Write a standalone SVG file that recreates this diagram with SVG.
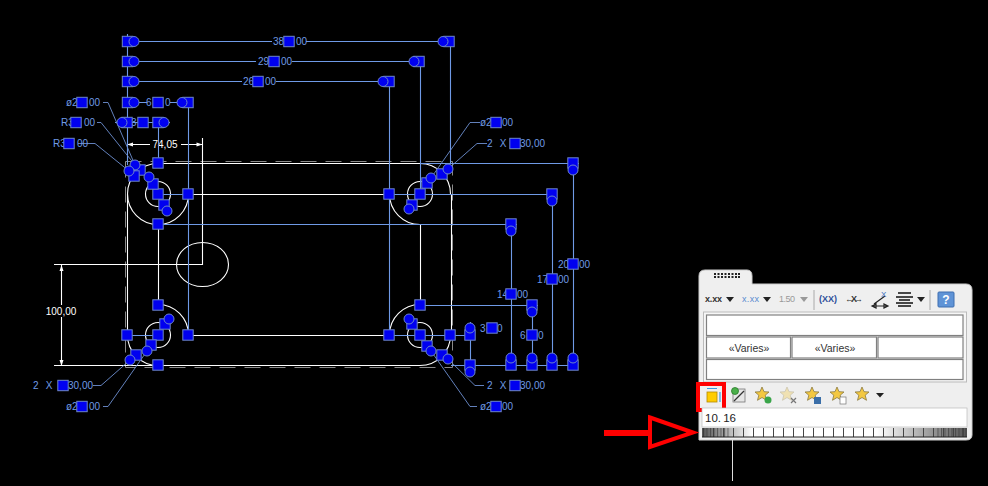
<svg xmlns="http://www.w3.org/2000/svg" xmlns:xlink="http://www.w3.org/1999/xlink" width="988" height="486" viewBox="0 0 988 486">
<style>
.b{stroke:#6f9ae6;stroke-width:1.1;fill:none}
.l{stroke:#6d8fd0;stroke-width:.9;fill:none}
.w{stroke:#fff;stroke-width:1.1;fill:none}
.d{stroke:#8a8a8a;stroke-width:1;fill:none;stroke-dasharray:16 9}
.h{fill:#0000f0;stroke:#6d86c8;stroke-width:1}
.t{font-family:"Liberation Sans",Arial,sans-serif;font-size:10px;fill:#6f9ae6;word-spacing:4.500px}
.tw{font-family:"Liberation Sans",Arial,sans-serif;font-size:10px;fill:#fff}
.c{stroke:#808080;stroke-width:1.2;fill:#fff}
.ui{font-family:"Liberation Sans",Arial,sans-serif;font-size:9px;fill:#333}
.tri{fill:#222}
.star{fill:#f3c842;stroke:#8a7a40;stroke-width:.8}
</style>
<defs>
<rect id="s" class="h" x="-5.200" y="-5.200" width="10.400" height="10.400"/>
<circle id="o" class="h" r="5"/>
<path id="st" class="star" d="M0-7 2-2.300 7-2 3.200 1.200 4.500 6.300 0 3.500-4.500 6.300-3.200 1.200-7-2-2-2.300Z"/>
<linearGradient id="rg" x1="0" x2="1" y1="0" y2="0">
<stop offset="0" stop-color="#555"/><stop offset=".1" stop-color="#b5b5b5"/><stop offset=".19" stop-color="#fff"/><stop offset=".66" stop-color="#fff"/><stop offset=".78" stop-color="#c4c4c4"/><stop offset="1" stop-color="#555"/>
</linearGradient>
<pattern id="tk" width="10" height="10" patternUnits="userSpaceOnUse" x="703"><rect x="0" width="1" height="10" fill="#444"/></pattern>
<pattern id="tk2" width="3.500" height="10" patternUnits="userSpaceOnUse" x="703"><rect x="0" width="1" height="10" fill="#333" fill-opacity=".6"/></pattern>
</defs>
<rect width="988" height="486" fill="#000"/>

<g id="part">
<path class="d" d="M125.500 161.500H452.500V367.500H125.500Z"/>
<path class="w" d="M158 163.500H420M158 365.500H420M127.500 194V335M451.500 194V335"/>
<path class="w" d="M188 194.500H390M188 335.500H390M158.500 224V305M420.500 224V305"/>
<path class="w" d="M158 163.500A30.500 30.500 0 0 0 127.500 194A30.500 30.500 0 0 0 158 224.500A30.500 30.500 0 0 0 188.500 194"/>
<path class="w" d="M389.500 194A30.500 30.500 0 0 0 420 224.500M420 163.500A30.500 30.500 0 0 1 450.500 194"/>
<path class="w" d="M158 304.500A30.500 30.500 0 0 1 188.500 335M127.500 335A30.500 30.500 0 0 0 158 365.500"/>
<path class="w" d="M389.500 335A30.500 30.500 0 0 1 420 304.500M450.500 335A30.500 30.500 0 0 1 420 365.500"/>
<circle class="w" cx="158" cy="194" r="12.500"/>
<circle class="w" cx="420" cy="194" r="12.500"/>
<circle class="w" cx="158" cy="335" r="12.500"/>
<circle class="w" cx="420" cy="335" r="12.500"/>
<ellipse class="w" cx="202.500" cy="264.500" rx="26" ry="22"/>
</g>

<g id="dims-white">
<path class="w" d="M202.500 138V264.500H54M54 365.500H158M61.500 265V366M127 144.500H202.500"/>
<path d="M127 144.500l6-2v4ZM202.500 144.500l-6-2v4ZM61.500 265l-2 6h4ZM61.500 366l-2-6h4Z" fill="#fff"/>
<rect x="150" y="138" width="31" height="12" fill="#000"/>
<rect x="44" y="305" width="34" height="12" fill="#000"/>
<text class="tw" x="165" y="148" text-anchor="middle">74,05</text>
<text class="tw" x="61" y="314.500" text-anchor="middle">100,00</text>
</g>

<g id="connectors">
<path class="b" d="M127.500 34V165M134 41.500H272M306 41.500H448M134 61.500H256M292 61.500H421M134 81.500H242M276 81.500H390M134 102.500H147M170 102.500H182M115 122.500H170"/>
<path class="b" d="M450.500 41V163M420.500 61V194M389.500 81V335M188.500 102V335M158.500 122V163"/>
<path class="b" d="M420 163.500H579M158 194.500H188M390 194.500H556M158 224.500H517M420 305.500H538M127 335.500H158M390 335.500H470M451 365.500H577M470.500 322V372"/>
<path class="b" d="M573.500 170V358M552.500 201V358M511.500 231V358M532.500 312V358"/>
<path class="l" d="M103 102.500H108L135 165M97 122.500H101L135 165M78 143.500H95L129 171"/>
<path class="l" d="M480 122.500H470L431 178M487 143.500H477L448 169"/>
<path class="l" d="M93 385.500H101L130 360M103 406.500H108L147 351"/>
<path class="l" d="M484 385.500H475L448 359M477 406.500H470L431 351"/>
</g>

<g id="labels">
<text class="t" x="66" y="105.500">ø2<tspan x="89">00</tspan></text>
<text class="t" x="61" y="126">R3<tspan x="84">00</tspan></text>
<text class="t" x="53" y="147">R3<tspan x="77">00</tspan></text>
<text class="t" x="273" y="45">38<tspan x="296">00</tspan></text>
<text class="t" x="258" y="65">29<tspan x="281">00</tspan></text>
<text class="t" x="243" y="85">26<tspan x="265">00</tspan></text>
<text class="t" x="146" y="106">6<tspan x="165">0</tspan></text>
<text class="t" x="131" y="126">3</text>
<text class="t" x="480" y="126">ø2<tspan x="502">00</tspan></text>
<text class="t" x="487" y="147">2 X<tspan x="520">30,00</tspan></text>
<text class="t" x="33" y="389">2 X<tspan x="68">30,00</tspan></text>
<text class="t" x="66" y="410">ø2<tspan x="89">00</tspan></text>
<text class="t" x="487" y="389">2 X<tspan x="520">30,00</tspan></text>
<text class="t" x="480" y="410">ø2<tspan x="502">00</tspan></text>
<text class="t" x="480" y="332">3<tspan x="497">0</tspan></text>
<text class="t" x="520" y="339">6<tspan x="538">0</tspan></text>
<text class="t" x="497" y="298">14<tspan x="517">00</tspan></text>
<text class="t" x="537" y="283">17<tspan x="558">00</tspan></text>
<text class="t" x="558" y="268">20<tspan x="579">00</tspan></text>
</g>

<g id="handles">
<use href="#s" x="127.500" y="41.500"/><use href="#o" x="134" y="41.500"/>
<use href="#s" x="127.500" y="61.500"/><use href="#o" x="134" y="61.500"/>
<use href="#s" x="127.500" y="81.500"/><use href="#o" x="134" y="81.500"/>
<use href="#s" x="127.500" y="102.500"/><use href="#o" x="134" y="102.500"/>
<use href="#s" x="289" y="41.500"/><use href="#s" x="449" y="41.500"/><use href="#o" x="443" y="41.500"/>
<use href="#s" x="274" y="61.500"/><use href="#s" x="419" y="61.500"/><use href="#o" x="414" y="61.500"/>
<use href="#s" x="258" y="81.500"/><use href="#s" x="389" y="81.500"/><use href="#o" x="383" y="81.500"/>
<use href="#s" x="158" y="102.500"/><use href="#s" x="188" y="102.500"/><use href="#o" x="182" y="102.500"/>
<use href="#s" x="127" y="122.500"/><use href="#o" x="122" y="122.500"/>
<use href="#s" x="143" y="122.500"/><use href="#s" x="158" y="122.500"/><use href="#o" x="164" y="122.500"/>
<use href="#s" x="82" y="102.500"/><use href="#s" x="76" y="122.500"/><use href="#s" x="69" y="143.500"/>
<use href="#s" x="496" y="122.500"/><use href="#s" x="515" y="143.500"/>
<use href="#s" x="63" y="385.500"/><use href="#s" x="82" y="406.500"/>
<use href="#s" x="515" y="385.500"/><use href="#s" x="496" y="406.500"/>

<use href="#s" x="158" y="163"/><use href="#s" x="188" y="194"/><use href="#s" x="158" y="194"/><use href="#s" x="158" y="224"/>
<use href="#s" x="140" y="170"/><use href="#s" x="134" y="176"/><use href="#s" x="153" y="184"/><use href="#s" x="164" y="205"/>
<use href="#o" x="135" y="165"/><use href="#o" x="129" y="171"/><use href="#o" x="149" y="177"/><use href="#o" x="167" y="211"/>

<use href="#s" x="420" y="194"/><use href="#s" x="389" y="194"/><use href="#s" x="427" y="183"/><use href="#s" x="442" y="174"/><use href="#s" x="412" y="205"/>
<use href="#o" x="431" y="178"/><use href="#o" x="448" y="169"/><use href="#o" x="409" y="209"/>

<use href="#s" x="158" y="305"/><use href="#s" x="127" y="335"/><use href="#s" x="158" y="335"/><use href="#s" x="188" y="335"/><use href="#s" x="158" y="365"/>
<use href="#s" x="165" y="324"/><use href="#s" x="151" y="345"/><use href="#s" x="136" y="355"/>
<use href="#o" x="169" y="319"/><use href="#o" x="147" y="351"/><use href="#o" x="130" y="360"/>

<use href="#s" x="389" y="335"/><use href="#s" x="420" y="305"/><use href="#s" x="420" y="335"/><use href="#s" x="450" y="335"/>
<use href="#s" x="412" y="324"/><use href="#s" x="427" y="346"/><use href="#s" x="442" y="355"/>
<use href="#o" x="409" y="319"/><use href="#o" x="431" y="351"/><use href="#o" x="448" y="359"/>

<use href="#s" x="573" y="163"/><use href="#o" x="573" y="170"/>
<use href="#s" x="552" y="194"/><use href="#o" x="552" y="201"/>
<use href="#s" x="511" y="224"/><use href="#o" x="511" y="231"/>
<use href="#s" x="532" y="305"/><use href="#o" x="532" y="312"/>
<use href="#s" x="470" y="335"/><use href="#o" x="470" y="328"/>
<use href="#s" x="470" y="365"/><use href="#o" x="470" y="372"/>
<use href="#s" x="511" y="365"/><use href="#o" x="511" y="358"/>
<use href="#s" x="532" y="365"/><use href="#o" x="532" y="358"/>
<use href="#s" x="552" y="365"/><use href="#o" x="552" y="358"/>
<use href="#s" x="573" y="365"/><use href="#o" x="573" y="358"/>
<use href="#s" x="492" y="328"/><use href="#s" x="532" y="335"/>
<use href="#s" x="511" y="294"/><use href="#s" x="552" y="279"/><use href="#s" x="573" y="264"/>
</g>

<g id="panel">
<path d="M699 440V276Q699 270 705 270H747Q752 270 752 276V284H966Q972 284 972 290V435Q972 440 966 440Z" fill="#efefef" stroke="#ccc"/>
<path d="M714 274h2M717.500 274h2M721 274h2M724.500 274h2M728 274h2M731.500 274h2M735 274h2M738 274h2M714 277h2M717.500 277h2M721 277h2M724.500 277h2M728 277h2M731.500 277h2M735 277h2M738 277h2" stroke="#222" stroke-width="2"/>
<path d="M814 290V310M930 290V310" stroke="#aaa" stroke-width="1"/>
<text class="ui" x="705" y="302" style="font-weight:bold" textLength="17">x.xx</text>
<text class="ui" x="742" y="302" style="fill:#5a8bd0" textLength="17">x.xx</text>
<text class="ui" x="779" y="302" style="fill:#999" textLength="16">1.50</text>
<path class="tri" d="M726 297h8l-4 5Z"/><path class="tri" d="M763 297h8l-4 5Z"/><path d="M800 297h8l-4 5Z" fill="#999"/>
<text class="ui" x="819" y="302" style="fill:#2e4f9a;font-weight:bold" textLength="18">(XX)</text>
<text class="ui" x="845" y="302" style="font-weight:bold" textLength="18">←X→</text>
<path d="M872 306H888M872 306l4-2v4ZM888 306l-4-2v4ZM874 304L885 296" stroke="#222" stroke-width="1.200" fill="none"/>
<text class="ui" x="881" y="297" style="fill:#3a6cc0;font-size:8px">X</text>
<path d="M898 293H911M896 297H913M899 300H910M896 303H913M898 306H911" stroke="#111" stroke-width="1.500"/>
<path class="tri" d="M917 297h8l-4 5Z"/>
<rect x="938" y="292" width="16" height="15" rx="1" fill="#5f93d6" stroke="#3f6fb0"/>
<text x="946" y="304" text-anchor="middle" style="font-family:'Liberation Sans',sans-serif;font-size:12px;font-weight:bold;fill:#fff">?</text>
<rect x="703.500" y="312" width="263" height="70" fill="#f6f6f6" stroke="#bbb"/>
<rect class="c" x="706.500" y="315" width="256.500" height="20.500"/>
<rect class="c" x="706.500" y="337" width="84" height="21"/>
<rect class="c" x="792" y="337" width="84.500" height="21"/>
<rect class="c" x="878" y="337" width="85" height="21"/>
<rect class="c" x="706.500" y="359.500" width="256.500" height="20"/>
<text x="749" y="352" text-anchor="middle" style="font-family:'Liberation Sans',sans-serif;font-size:10.500px;fill:#333">«Varies»</text>
<text x="835" y="352" text-anchor="middle" style="font-family:'Liberation Sans',sans-serif;font-size:10.500px;fill:#333">«Varies»</text>
<rect x="707" y="392" width="10" height="10" fill="#fc0" stroke="#b58a00" stroke-width=".8"/>
<path d="M707 388.500H717M720 392V402" stroke="#3b9be0" stroke-width="1.200"/>
<rect x="698" y="384" width="26" height="26" fill="none" stroke="#f00" stroke-width="4"/>
<rect x="733" y="389" width="12" height="13" fill="#e6e6e6" stroke="#777" stroke-width=".8"/>
<path d="M734 401L744 391" stroke="#333" stroke-width="1.200"/><circle cx="735" cy="391" r="3.500" fill="#4ab04a" stroke="#2a7a2a" stroke-width=".8"/>
<use href="#st" x="762" y="394"/><circle cx="768" cy="400" r="3.500" fill="#3aa54a"/>
<use href="#st" x="787" y="394" style="opacity:.35"/><path d="M791 398l5 5m0-5l-5 5" stroke="#777" stroke-width="1.200"/>
<use href="#st" x="812" y="394"/><rect x="814" y="397" width="7" height="7" fill="#3a6ea8"/>
<use href="#st" x="837" y="394"/><rect x="840" y="397" width="6" height="7" fill="#fff" stroke="#777" stroke-width=".7"/>
<use href="#st" x="862" y="394"/>
<path class="tri" d="M876 393h8l-4 4.500Z"/>
<rect x="702" y="408" width="265" height="19" fill="#fff" stroke="#bbb" stroke-width=".7"/>
<text x="705" y="422" style="font-family:'Liberation Sans',sans-serif;font-size:11.500px;fill:#222;word-spacing:-1px">10. 16</text>
<rect x="702" y="428" width="265" height="9" fill="url(#rg)"/>
<rect x="702" y="428" width="265" height="9" fill="url(#tk)"/>
<rect x="702" y="428" width="28" height="9" fill="url(#tk2)"/>
<rect x="936" y="428" width="31" height="9" fill="url(#tk2)"/>
<path d="M702 437H967" stroke="#222"/>
</g>

<g id="pointer">
<path d="M604 430H650V436H604Z" fill="#f00"/>
<path d="M650 417.500L693 432.500L650 447Z" fill="#000" stroke="#f00" stroke-width="4"/>
<path d="M732.500 440V481" stroke="#ddd" stroke-width="1"/>
</g>
</svg>
